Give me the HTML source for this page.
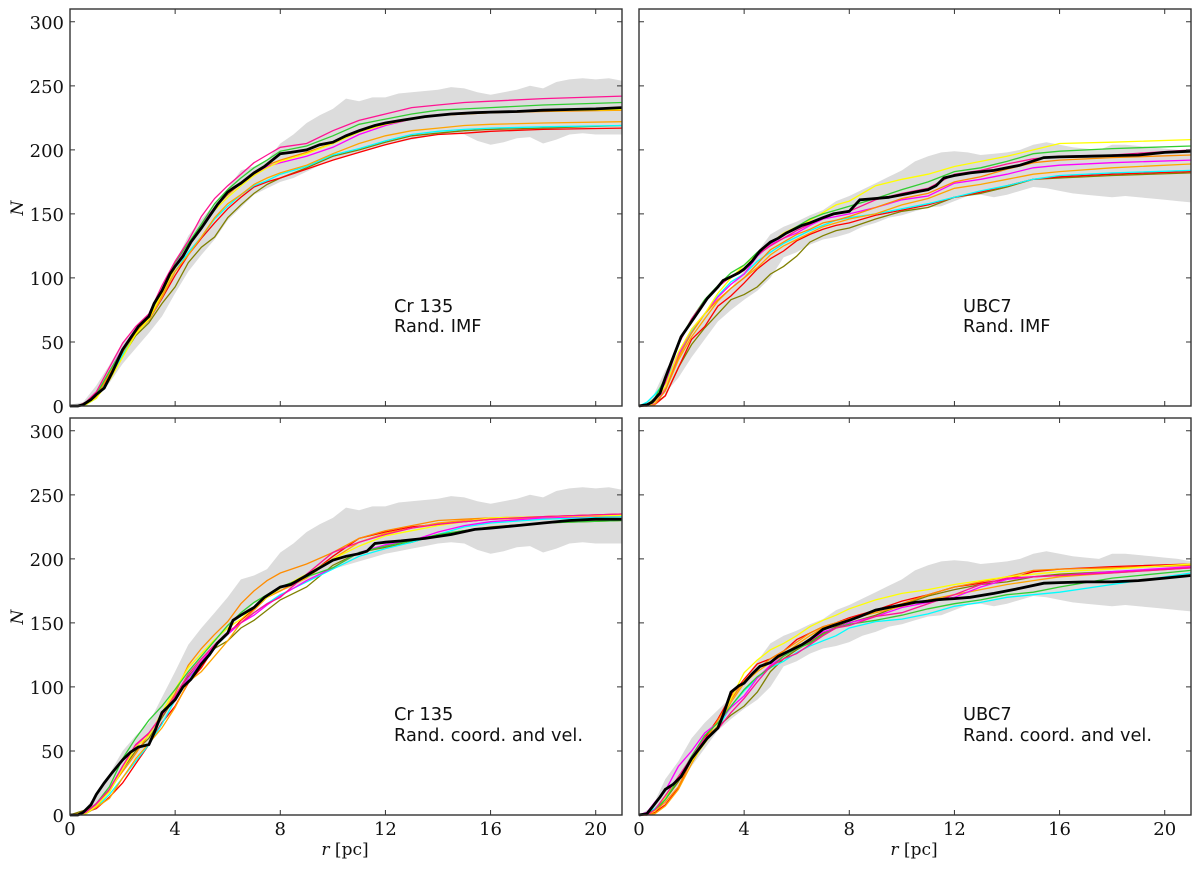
<!DOCTYPE html>
<html lang="en">
<head>
<meta charset="utf-8">
<title>Cumulative radial profiles</title>
<style>
html,body{margin:0;padding:0;background:#fff;width:1200px;height:869px;overflow:hidden}
svg{display:block}
.tick-label{font-family:"DejaVu Serif","Liberation Serif",serif;font-size:18px;fill:#111}
.axis-title{font-family:"DejaVu Serif","Liberation Serif",serif;font-size:17px;fill:#111}
.note{font-family:"DejaVu Sans","Liberation Sans",sans-serif;font-size:17.8px;fill:#111}
</style>
</head>
<body>
<svg id="chart" xmlns="http://www.w3.org/2000/svg" width="1200" height="869" viewBox="0 0 1200 869"></svg>
<script>
const xTicks = [0, 4, 8, 12, 16, 20];
const yTicks = [0, 50, 100, 150, 200, 250, 300];
const radii = [0,.3,.6,1,1.5,2,2.5,3,3.5,4,4.5,5,5.5,6,6.5,7,7.5,8,9,10,11,12,13,14,15,16,18,21];
const blackRadii = [0,.3,.5,.8,1,1.3,1.6,2,2.3,2.6,3,3.2,3.5,3.8,4,4.3,4.6,5,5.3,5.6,6,6.2,6.5,7,7.4,8,8.4,9,9.5,10,10.5,11,11.3,11.6,12,12.6,13.5,14.5,15.4,16,17,18,19,20,21];
const bandRadii = [0,.5,1,1.5,2,2.5,3,3.5,4,4.5,5,5.5,6,6.5,7,7.5,8,8.5,9,9.5,10,10.5,11,11.5,12,12.5,13,13.5,14,14.5,15,15.5,16,16.5,17,17.5,18,18.5,19,19.5,20,20.5,21];

const crBandUpper = [1,3,16,32,50,62,72,92,112,133,146,158,170,184,187,192,205,212,221,227,232,240,238,241,241,244,245,246,247,249,248,245,243,245,247,250,248,253,255,256,255,256,254];
const crBandLower = [0,0,6,18,33,45,57,70,88,105,118,130,145,155,165,170,175,178,183,188,192,195,198,201,204,206,208,210,212,213,212,207,204,206,209,210,205,208,212,213,212,212,212];
const ubcBandUpper = [0,6,28,42,60,72,82,92,106,120,134,140,144,149,153,160,164,169,174,179,184,191,195,198,199,198,196,197,198,200,204,206,204,202,201,200,204,204,203,202,201,200,198];
const ubcBandLower = [0,0,10,22,38,52,66,75,83,90,100,116,120,126,130,132,135,140,143,147,149,152,155,156,160,164,165,163,165,168,171,170,168,166,165,164,163,164,163,162,161,160,159];

const crImfPink = [0,0,3,11,30,49,62,72,94,113,129,148,162,172,181,190,196,202,205,215,223,228,233,235,237,238,240,242];
const crImfLime = [0,0,2,9,27,44,59,70,91,112,127,142,158,169,178,186,192,199,203,211,220,224,228,231,232,233,235,237];
const crImfYellow = [0,0,1,6,20,38,56,68,88,108,125,140,153,163,172,180,186,191,197,205,214,220,224,227,228,229,230.5,231.5];
const crImfMagenta = [0,0,2,8,27,45,60,71,90,110,125,142,155,165,174,180,187,190,195,202,212,219,224,227,228,229,230.5,231.5];
const crImfDarkOrange = [0,0,2,8,25,43,58,68,87,108,125,140,155,165,174,181,188,192,198,205,214,220,224,227,228,229,230,231];
const crImfOrange = [0,0,2,7,25,42,57,67,85,105,118,132,147,158,165,173,178,182,188,197,205,211,215,217,219,220,221,222];
const crImfCyan = [0,0,1,6,22,40,57,67,85,105,120,132,146,156,165,172,176,181,187,196,201,207,212,214.5,216,217,218,219];
const crImfOlive = [0,0,3,10,22,39,55,65,80,93,112,124,132,147,157,166,173,178,186,195,200,206,211,213,215,216,217,219];
const crImfRed = [0,0,1,7,23,41,57,67,84,102,118,131,143,154,163,171,175,178,185,192,198,204,209,212,213,214.5,216,217];
const crImfBlack = [0,0,1,5,9,14,26,44,53,62,70,80,90,103,109,117,128,139,148,157,167,170,174,182,187,197,198,200,204,206,211,215,217,219,221,223,226,228,229,229.5,230,231,231.5,232,233];

const ubcImfPink = [0,0,4,18,48,68,82,93,101,106,118,125,131,137,142,147,150,152,161,166,170,181,184,189,193,195,196,200];
const ubcImfLime = [0,1,6,22,50,68,83,94,104,110,120,127,134,140,146,150,153,156,162,169,175,183,186,191,197,199,201,203];
const ubcImfYellow = [0,0,3,15,42,60,72,88,100,110,119,127,135,140,145,151,157,160,172,177,181,187,191,195,200,205,206,208];
const ubcImfMagenta = [0,0,2,14,40,60,72,85,95,103,117,126,131,135,141,146,148,150,155,161,164,174,177,181,186,188,190,192];
const ubcImfDarkOrange = [0,0,1,12,38,57,72,83,92,100,111,122,128,134,138,143,145,148,155,162,166,175,179,185,190,192,194,196];
const ubcImfOrange = [0,0,2,12,36,54,68,82,92,100,108,118,125,130,135,140,143,146,150,157,162,170,173,177,181,183,186,189];
const ubcImfCyan = [0,3,9,19,40,58,72,86,97,103,113,120,127,132,137,141,145,147,150,154,158,163,168,172,177,180,182,184];
const ubcImfOlive = [0,0,2,8,30,48,61,72,83,87,93,103,109,117,128,133,137,139,146,152,155,163,166,171,177,178,180,182];
const ubcImfRed = [0,0,1,8,30,52,62,78,86,96,107,115,121,129,134,138,141,143,149,153,157,163,167,172,177,179,181,183];
const ubcImfBlack = [0,1,3,10,22,38,54,66,75,84,93,98,101,104,107,113,121,128,131,135,139,141,143,147,150,152,161,162,163,165,167,169,172,178,180,182,184,188,194,194.5,195,195.5,196,198,199];

const crPosPink = [0,0,2,9,20,38,55,64,78,93,110,122,133,143,150,158,165,170,188,205,213,219,224,227,229,231,233,235];
const crPosLime = [0,0,2,9,22,44,60,74,85,98,112,124,136,148,158,166,172,178,186,193,205,210,214,219,222,224,228,230];
const crPosYellow = [0,0,1,7,18,36,53,62,80,98,115,126,137,146,153,162,170,177,188,200,210,218,222,226,229,232,233,234];
const crPosMagenta = [0,0,1,8,20,38,54,64,78,92,107,120,132,141,150,156,164,171,183,193,205,211,214,221,226,229,232,234];
const crPosDarkOrange = [0,0,1,6,20,34,48,63,78,95,117,130,141,151,165,175,183,189,196,205,216,222,226,230,231,232,233,234];
const crPosOrange = [0,1,2,6,13,29,44,56,68,84,104,112,124,136,150,160,170,175,185,200,213,220,224,228,230,231,232,234];
const crPosCyan = [0,0,1,6,16,29,42,55,71,90,107,118,131,141,150,158,165,172,182,192,202,208,213,219,225,228,231,233];
const crPosOlive = [0,2,4,8,18,36,50,60,76,92,108,120,130,136,146,152,160,168,178,195,205,209,213,219,222,225,228,230];
const crPosRed = [0,0,2,5,14,25,40,55,72,85,103,115,131,141,152,161,170,175,186,202,216,221,225,227,229,231,233,235];
const crPosBlack = [0,0,2,8,16,25,33,43,49,53,55,64,80,86,90,100,106,118,125,134,142,152,156,162,170,178,180,187,193,199,202,204,206,212,213,214,216,219,223,224,226,228,230,231,231];

const ubcPosPink = [0,0,4,15,30,45,60,67,80,91,104,116,122,126,133,140,146,148,155,158,165,172,180,185,186,187,189,193];
const ubcPosLime = [0,1,4,12,28,46,62,72,85,98,108,115,124,130,134,141,146,149,152,156,161,165,168,172,174,178,185,191];
const ubcPosYellow = [0,1,3,14,30,42,56,70,91,111,121,129,134,140,147,152,156,161,168,173,176,180,183,186,188,190,192,196];
const ubcPosMagenta = [0,2,10,19,38,50,64,72,84,93,107,117,124,130,136,143,146,150,155,162,166,170,178,184,186,187,190,194];
const ubcPosDarkOrange = [0,0,3,10,22,44,58,74,90,105,114,122,128,135,142,147,150,153,159,165,172,178,182,186,191,192,193,195];
const ubcPosOrange = [0,0,1,7,20,40,58,70,88,103,112,119,125,133,140,146,149,153,158,163,168,172,176,180,183,186,189,193];
const ubcPosCyan = [0,1,5,13,30,45,58,68,85,97,107,115,120,127,132,136,140,146,151,153,157,163,166,170,172,174,180,189];
const ubcPosOlive = [0,0,3,12,26,44,60,69,78,85,96,112,122,129,135,142,147,150,156,164,171,176,180,182,186,188,190,193];
const ubcPosRed = [0,0,2,8,21,44,60,75,93,106,118,122,128,137,142,147,150,154,160,167,172,178,181,184,190,192,194,196];
const ubcPosBlack = [0,1,6,14,20,24,30,44,52,60,68,78,96,101,103,110,116,119,124,127,131,133,137,145,148,152,155,160,162,164,166,167,168,168.5,169,170,173,177,181,181.5,182,182,183,185,187];

const seriesNames = ['olive','red','cyan','orange','magenta','dark-orange','yellow','lime','pink','black'];
const seriesColors = ['#808000','#ff0000','#00ffff','#ffa500','#ff00ff','#ff8c00','#ffff00','#32cd32','#ff1493','#000000'];
const panelNames = ['cr135-rand-imf','ubc7-rand-imf','cr135-rand-coord-vel','ubc7-rand-coord-vel'];
const panelNoteOne = ['Cr 135','UBC7','Cr 135','UBC7'];
const panelNoteTwo = ['Rand. IMF','Rand. IMF','Rand. coord. and vel.','Rand. coord. and vel.'];
const panelSeries = [
  [crImfOlive,crImfRed,crImfCyan,crImfOrange,crImfMagenta,crImfDarkOrange,crImfYellow,crImfLime,crImfPink,crImfBlack],
  [ubcImfOlive,ubcImfRed,ubcImfCyan,ubcImfOrange,ubcImfMagenta,ubcImfDarkOrange,ubcImfYellow,ubcImfLime,ubcImfPink,ubcImfBlack],
  [crPosOlive,crPosRed,crPosCyan,crPosOrange,crPosMagenta,crPosDarkOrange,crPosYellow,crPosLime,crPosPink,crPosBlack],
  [ubcPosOlive,ubcPosRed,ubcPosCyan,ubcPosOrange,ubcPosMagenta,ubcPosDarkOrange,ubcPosYellow,ubcPosLime,ubcPosPink,ubcPosBlack]
];
const panelBandUpper = [crBandUpper,ubcBandUpper,crBandUpper,ubcBandUpper];
const panelBandLower = [crBandLower,ubcBandLower,crBandLower,ubcBandLower];

const svg = document.getElementById('chart');
const NS = 'http://www.w3.org/2000/svg';
const xMax = 21, yMax = 310;
const colX = [70, 639], rowTop = [9, 418], plotW = 552, plotH = 397;

function mk(tag, attrs, parent) {
  const el = document.createElementNS(NS, tag);
  for (const k in attrs) el.setAttribute(k, attrs[k]);
  parent.appendChild(el);
  return el;
}

panelNames.forEach(function (name, p) {
  const left = colX[p % 2], top = rowTop[p < 2 ? 0 : 1];
  const bottom = top + plotH, right = left + plotW;
  const sx = function (v) { return left + v / xMax * plotW; };
  const sy = function (v) { return bottom - v / yMax * plotH; };

  const g = mk('g', {}, svg);
  
  

  const up = panelBandUpper[p], lo = panelBandLower[p];
  let bandD = '';
  bandRadii.forEach(function (r, i) { bandD += (i ? 'L' : 'M') + sx(r).toFixed(1) + ' ' + sy(up[i]).toFixed(1); });
  for (let i = bandRadii.length - 1; i >= 0; i--) bandD += 'L' + sx(bandRadii[i]).toFixed(1) + ' ' + sy(lo[i]).toFixed(1);
  const band = mk('path', { d: bandD + 'Z', fill: '#dcdcdc', stroke: 'none' }, g);
  
  

  panelSeries[p].forEach(function (vals, s) {
    const grid = s === 9 ? blackRadii : radii;
    let d = '';
    vals.forEach(function (v, i) { d += (i ? 'L' : 'M') + sx(grid[i]).toFixed(1) + ' ' + sy(v).toFixed(1); });
    const line = mk('path', { d: d, fill: 'none', stroke: seriesColors[s], 'stroke-width': s === 9 ? 2.8 : 1.3, 'stroke-linejoin': 'miter' }, g);
    
    
  });

  const frame = mk('rect', { x: left, y: top, width: plotW, height: plotH, fill: 'none', stroke: '#333', 'stroke-width': 1.4 }, g);
  
  

  xTicks.forEach(function (t) {
    const x = sx(t);
    const tick = mk('path', { d: 'M' + x + ' ' + bottom + 'v-5M' + x + ' ' + top + 'v5', stroke: '#333', 'stroke-width': 1, fill: 'none' }, g);
    
    
    if (p >= 2) {
      const lab = mk('text', { x: x, y: bottom + 20, 'text-anchor': 'middle', class: 'tick-label' }, g);
      lab.textContent = String(t);
      
      
    }
  });

  yTicks.forEach(function (t) {
    const y = sy(t);
    const tick = mk('path', { d: 'M' + left + ' ' + y + 'h5M' + right + ' ' + y + 'h-5', stroke: '#333', 'stroke-width': 1, fill: 'none' }, g);
    
    
    if (p % 2 === 0) {
      const lab = mk('text', { x: left - 6, y: y + 7, 'text-anchor': 'end', class: 'tick-label' }, g);
      lab.textContent = String(t);
      
      
    }
  });

  if (p % 2 === 0) {
    const yt = mk('text', { transform: 'translate(23,' + (top + 199) + ') rotate(-90)', 'text-anchor': 'middle', class: 'axis-title', 'font-style': 'italic' }, g);
    yt.textContent = 'N';
    
    
  }
  if (p >= 2) {
    const xt = mk('text', { x: left + 275, y: 855, 'text-anchor': 'middle', class: 'axis-title' }, g);
    const it = mk('tspan', { 'font-style': 'italic' }, xt);
    it.textContent = 'r';
    const rest = mk('tspan', {}, xt);
    rest.textContent = ' [pc]';
    
    
  }

  const noteX = left + 324;
  const n1 = mk('text', { x: noteX, y: top + (p < 2 ? 303 : 302), class: 'note' }, g);
  n1.textContent = panelNoteOne[p];
  
  
  const n2 = mk('text', { x: noteX, y: top + 323, class: 'note' }, g);
  n2.textContent = panelNoteTwo[p];
  
  
});
</script>
</body>
</html>
